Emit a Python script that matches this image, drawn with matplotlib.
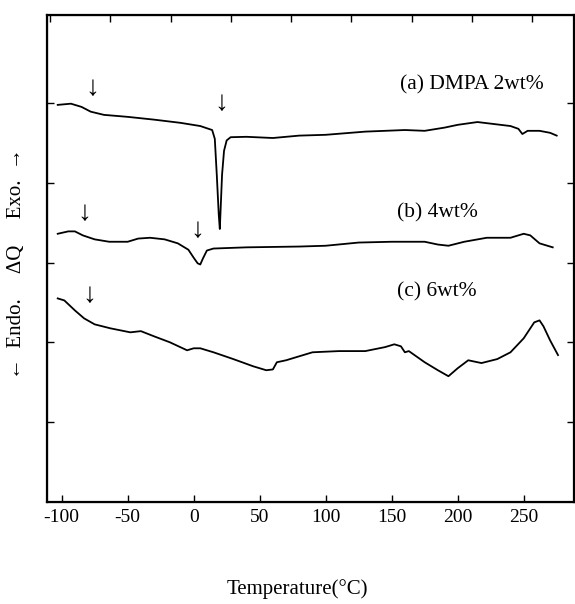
import matplotlib.pyplot as plt

serif = ['Liberation Serif', 'DejaVu Serif']

# curve (a) DMPA 2wt%
ta = [-103, -93, -85, -78, -68, -50, -30, -10, 5, 14, 16, 17.5, 19, 19.8, 20.5, 21.5, 23, 25, 28,
      40, 60, 80, 100, 130, 160, 175, 190, 200, 215, 225, 240, 246, 249, 253, 262, 270, 275]
ya = [4.975, 4.99, 4.95, 4.89, 4.85, 4.825, 4.79, 4.75, 4.71, 4.66, 4.55, 4.1, 3.6, 3.42, 3.7, 4.1, 4.4, 4.53, 4.57,
      4.575, 4.56, 4.59, 4.6, 4.64, 4.66, 4.65, 4.69, 4.725, 4.76, 4.74, 4.71, 4.675, 4.61, 4.65, 4.65, 4.625, 4.59]

# curve (b) 4wt%
tb = [-103, -95, -90, -84, -75, -64, -50, -42, -33, -22, -12, -4, 0, 3, 5, 7, 10, 15, 40, 80,
      100, 125, 150, 175, 185, 193, 205, 222, 240, 250, 255, 262, 272]
yb = [3.36, 3.39, 3.39, 3.34, 3.29, 3.26, 3.26, 3.3, 3.31, 3.29, 3.24, 3.16, 3.06, 2.99, 2.975, 3.05, 3.15, 3.175, 3.19, 3.2,
      3.21, 3.25, 3.26, 3.26, 3.225, 3.21, 3.26, 3.31, 3.31, 3.36, 3.34, 3.24, 3.19]

# curve (c) 6wt%
tc = [-103, -98, -90, -83, -75, -63, -48, -40, -30, -18, -5, 0, 5, 15, 30, 45, 55, 60, 63, 70, 80, 90,
      110, 130, 145, 152, 157, 160, 163, 175, 185, 193, 200, 208, 218, 230, 240, 250, 258, 262, 265, 270, 276]
yc = [2.55, 2.525, 2.4, 2.3, 2.225, 2.175, 2.125, 2.14, 2.075, 2.0, 1.9, 1.925, 1.925, 1.875, 1.79, 1.7, 1.65, 1.66, 1.75, 1.775, 1.825, 1.875,
      1.89, 1.89, 1.94, 1.975, 1.95, 1.875, 1.89, 1.75, 1.65, 1.575, 1.675, 1.775, 1.74, 1.79, 1.875, 2.05, 2.25, 2.275, 2.2, 2.025, 1.84]

# transition markers (temperature, height)
arrow_t = [-77, 20.6, -82.6, 2.6, -79]
arrow_y = [5.18, 4.99, 3.61, 3.40, 2.59]

labels = ['(a) DMPA 2wt%', '(b) 4wt%', '(c) 6wt%']
label_t = [156, 154, 154]
label_y = [5.22, 3.62, 2.63]

xticks = [-100, -50, 0, 50, 100, 150, 200, 250]

fig = plt.figure(figsize=(5.75, 6.04), dpi=100)
ax = fig.add_axes([0.082, 0.169, 0.916, 0.806])

for t, y in [(ta, ya), (tb, yb), (tc, yc)]:
    ax.plot(t, y, color='black', lw=1.3)

for t, y in zip(arrow_t, arrow_y):
    ax.text(t, y, '\u2193', ha='center', va='center', fontsize=20, family=serif)

for s, t, y in zip(labels, label_t, label_y):
    ax.text(t, y, s, ha='left', va='center', fontsize=15.5, family=serif)

ax.set_xlim(-111, 288)
ax.set_ylim(0, 6.1)
ax.set_xticks(xticks)
ax.set_xticklabels([str(v) for v in xticks], family=serif, fontsize=14)
ax.set_yticks([1, 2, 3, 4, 5])
ax.set_yticklabels([])
ax.tick_params(direction='in', length=5, width=1, top=False, right=True, pad=5)
for sp in ax.spines.values():
    sp.set_linewidth(1.6)

# top ticks (no labels)
top = ax.twiny()
top.set_xlim(-0.05, 8.69)
top.set_xticks(range(9))
top.set_xticklabels([])
top.tick_params(direction='in', length=5, width=1)

ax.set_xlabel('Temperature(\u00b0C)', family=serif, fontsize=15)
ax.xaxis.set_label_coords(0.475, -0.158)
ax.set_ylabel('\u2190  Endo.     \u0394Q     Exo.  \u2192', family=serif, fontsize=15)
ax.yaxis.set_label_coords(-0.04, 0.49)

fig.savefig('out.png', dpi=100)
